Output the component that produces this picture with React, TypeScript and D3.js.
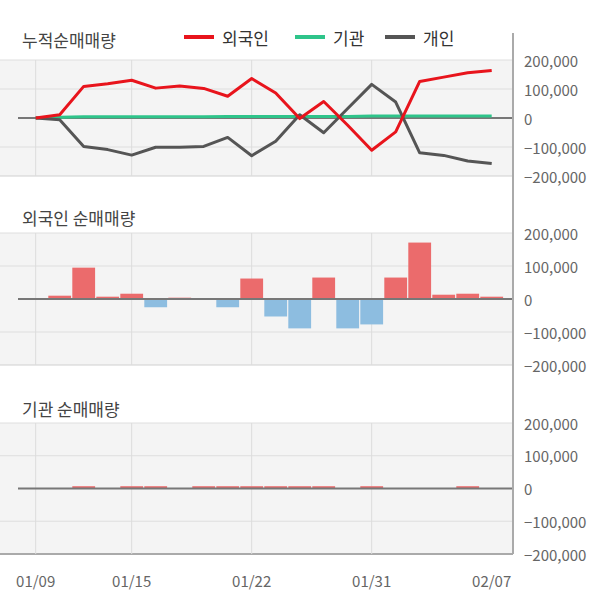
import React from "react";
import * as d3 from "d3";

const dates = ["01/09","01/10","01/13","01/14","01/15","01/16","01/17","01/20","01/21","01/22","01/23","01/28","01/29","01/30","01/31","02/03","02/04","02/05","02/06","02/07"];
const tickDates = ["01/09","01/15","01/22","01/31","02/07"];
const gridDates = ["01/09","01/15","01/22","01/31"];
const yTicks = [200000, 100000, 0, -100000, -200000];

const foreignCum = [0, 11000, 109000, 118000, 130000, 103000, 110000, 102000, 75000, 136000, 86000, -2000, 57000, -25000, -111000, -48000, 126000, 141000, 156000, 164000];
const institutionCum = [0, 3000, 4000, 4000, 4000, 4000, 4000, 4000, 5000, 5000, 5000, 5000, 5000, 5000, 7000, 7000, 7000, 7000, 7000, 7000];
const individualCum = [0, -6000, -98000, -109000, -128000, -101000, -101000, -98000, -67000, -130000, -80000, 11000, -51000, 33000, 116000, 55000, -120000, -129000, -148000, -157000];

const foreignDaily = [0, 10000, 95000, 7000, 16000, -25000, 4000, 0, -25000, 62000, -53000, -89000, 65000, -89000, -77000, 65000, 171000, 13000, 16000, 7000];
const institutionDaily = [0, 0, 7000, 0, 7000, 7000, 0, 7000, 7000, 7000, 7000, 7000, 7000, 0, 7000, 0, 0, 0, 7000, 0];

const seriesNames = ["외국인", "기관", "개인"];
const seriesColors = ["#e8141c", "#2ec48a", "#555555"];

const FONT = "'Noto Sans CJK KR', 'Noto Sans', sans-serif";
const W = 600, H = 604;
const PLOT_L = 0, PLOT_R = 513;

const x = d3.scaleBand<string>().domain(dates).range([23.7, 503.7]).paddingInner(0.05).paddingOuter(0.025);
const cx = (d: string) => (x(d) as number) + x.bandwidth() / 2;

const panels = [
  { title: "누적순매매량", top: 60, bottom: 176, titleY: 47 },
  { title: "외국인 순매매량", top: 233, bottom: 365, titleY: 225 },
  { title: "기관 순매매량", top: 423, bottom: 554, titleY: 416 },
];

function Panel({ p, idx }: { p: typeof panels[number]; idx: number }) {
  const y = d3.scaleLinear().domain([-200000, 200000]).range([p.bottom, p.top]);
  const line = d3.line<number>().x((_, i) => cx(dates[i])).y((v) => y(v));
  return (
    <g>
      <rect x={PLOT_L} y={p.top} width={PLOT_R - PLOT_L} height={p.bottom - p.top} fill="#f4f4f4" />
      {yTicks.filter((t) => t !== 0).map((t) => (
        <line key={t} x1={PLOT_L} x2={PLOT_R} y1={y(t)} y2={y(t)} stroke={t === -200000 ? (idx === 2 ? "#aaa" : "#d0d0d0") : "#dedede"} strokeWidth={t === -200000 && idx === 2 ? 2 : 1} />
      ))}
      {gridDates.map((d) => (
        <line key={d} x1={cx(d)} x2={cx(d)} y1={p.top} y2={p.bottom} stroke="#dcdcdc" strokeWidth={1} />
      ))}
      {idx === 1 && foreignDaily.map((v, i) => (
        v !== 0 ? <rect key={i} x={x(dates[i])} width={x.bandwidth()} y={Math.min(y(v), y(0))} height={Math.abs(y(v) - y(0))} fill={v > 0 ? "#eb6b6c" : "#8dbde0"} /> : null
      ))}
      {idx === 2 && institutionDaily.map((v, i) => (
        v !== 0 ? <rect key={i} x={x(dates[i])} width={x.bandwidth()} y={Math.min(y(v), y(0))} height={Math.abs(y(v) - y(0))} fill={v > 0 ? "#eb6b6c" : "#8dbde0"} /> : null
      ))}
      <line x1={18} x2={PLOT_R} y1={y(0)} y2={y(0)} stroke="#777" strokeWidth={2} />
      {idx === 0 && (
        <g fill="none" strokeWidth={3} strokeLinejoin="round">
          <path d={line(institutionCum) as string} stroke={seriesColors[1]} />
          <path d={line(individualCum) as string} stroke={seriesColors[2]} />
          <path d={line(foreignCum) as string} stroke={seriesColors[0]} />
        </g>
      )}
      {yTicks.map((t) => (
        <text key={t} x={524} y={y(t)} dominantBaseline="central" fontSize={15} fill="#666" fontFamily={FONT}>
          {d3.format(",")(t)}
        </text>
      ))}
      <text x={22} y={p.titleY} fontSize={17} fill="#444" fontFamily={FONT}>{p.title}</text>
    </g>
  );
}

export default function App() {
  const legendX = [184, 295, 385];
  return (
    <div style={{ position: "absolute", left: 0, top: 0 }}>
      <svg width={W} height={H} style={{ display: "block", background: "#fff" }}>
        {panels.map((p, i) => <Panel key={i} p={p} idx={i} />)}
        <line x1={PLOT_R} x2={PLOT_R} y1={33} y2={554} stroke="#aaa" strokeWidth={2} />
        {seriesNames.map((n, i) => (
          <g key={n}>
            <line x1={legendX[i]} x2={legendX[i] + 30} y1={37} y2={37} stroke={seriesColors[i]} strokeWidth={4} />
            <text x={legendX[i] + 38} y={37} dominantBaseline="central" fontSize={17} fill="#333" fontFamily={FONT}>{n}</text>
          </g>
        ))}
        {tickDates.map((d) => (
          <text key={d} x={cx(d)} y={580} textAnchor="middle" dominantBaseline="central" fontSize={15} fill="#666" fontFamily={FONT}>{d}</text>
        ))}
      </svg>
    </div>
  );
}
